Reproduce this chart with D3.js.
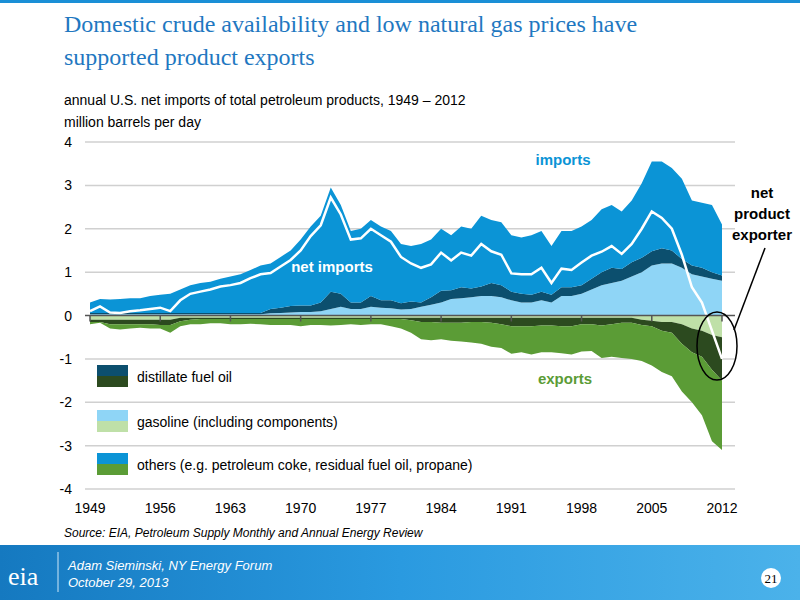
<!DOCTYPE html><html><head><meta charset="utf-8">
<script src="https://cdn.jsdelivr.net/npm/d3@7"></script>
<style>body{margin:0;background:#fff}svg{display:block;font-family:Arial,'Liberation Sans',sans-serif}</style></head><body>
<svg id="c" width="800" height="600"></svg>
<script>
const years = d3.range(1949, 2013);
const gasImports = [.03,.03,.03,.03,.03,.03,.03,.03,.03,.03,.03,.03,.03,.03,.03,.03,.03,.03,.05,.06,.07,.08,.08,.1,.15,.2,.15,.15,.2,.18,.17,.14,.15,.2,.25,.3,.38,.4,.42,.45,.45,.42,.35,.3,.3,.35,.3,.45,.45,.5,.6,.7,.75,.8,.9,1.0,1.15,1.2,1.2,1.1,.95,.9,.85,.8];
const distImports = [.03,.03,.03,.03,.03,.03,.03,.03,.03,.03,.03,.03,.03,.03,.03,.03,.03,.03,.1,.12,.15,.15,.15,.2,.4,.3,.15,.15,.25,.17,.18,.14,.17,.1,.17,.27,.2,.25,.2,.22,.3,.28,.2,.2,.18,.2,.18,.2,.2,.2,.25,.3,.35,.27,.33,.33,.33,.35,.3,.2,.2,.2,.15,.12];
const otherImports = [.24,.32,.31,.32,.34,.34,.39,.42,.44,.54,.64,.69,.72,.79,.84,.89,.99,1.09,1.05,1.17,1.28,1.52,1.82,2.0,2.4,2.05,1.65,1.7,1.75,1.7,1.6,1.37,1.28,1.35,1.33,1.43,1.27,1.4,1.38,1.63,1.45,1.45,1.3,1.3,1.37,1.4,1.12,1.3,1.3,1.35,1.35,1.45,1.45,1.33,1.42,1.72,2.07,2.0,1.9,1.85,1.5,1.5,1.55,1.18];
const gasExports = [.1,.1,.1,.1,.1,.1,.1,.1,.1,.05,.05,.05,.05,.05,.05,.05,.05,.05,.05,.05,.05,.05,.05,.05,.05,.05,.05,.05,.05,.05,.05,.05,.05,.05,.05,.05,.05,.05,.05,.05,.05,.05,.05,.05,.05,.05,.05,.05,.05,.05,.05,.05,.05,.05,.05,.1,.12,.15,.15,.2,.3,.35,.45,.5];
const distExports = [.05,.05,.1,.1,.1,.1,.1,.12,.12,.08,.05,.03,.03,.03,.03,.03,.03,.03,.03,.03,.03,.03,.03,.03,.03,.03,.03,.03,.03,.03,.03,.03,.06,.1,.1,.12,.12,.12,.1,.1,.12,.15,.2,.2,.2,.18,.18,.2,.2,.15,.15,.18,.15,.12,.12,.12,.13,.2,.25,.45,.55,.6,.8,1.0];
const otherExports = [.05,.02,.1,.12,.1,.08,.1,.08,.18,.12,.1,.12,.1,.1,.12,.12,.11,.12,.14,.14,.14,.17,.14,.14,.15,.14,.12,.14,.12,.12,.17,.22,.29,.4,.42,.38,.41,.43,.47,.5,.55,.55,.63,.6,.65,.62,.62,.62,.65,.63,.62,.75,.75,.81,.83,.83,.9,.95,1.0,1.1,1.15,1.35,1.65,1.6];
const yTicks = [4,3,2,1,0,-1,-2,-3,-4];
const xTicks = [1949,1956,1963,1970,1977,1984,1991,1998,2005,2012];

const svg = d3.select('#c');
// header
svg.append('rect').attr('x',0).attr('y',0).attr('width',800).attr('height',3).attr('fill','#1a8fd6');
svg.append('text').attr('x',64).attr('y',32).attr('fill','#1f78c1').attr('font-family','Liberation Serif,Times New Roman,serif').attr('font-size',24).text('Domestic crude availability and low natural gas prices have');
svg.append('text').attr('x',64).attr('y',65).attr('fill','#1f78c1').attr('font-family','Liberation Serif,Times New Roman,serif').attr('font-size',24).text('supported product exports');
svg.append('text').attr('x',64).attr('y',105).attr('font-size',14).attr('fill','#000').text('annual U.S. net imports of total petroleum products, 1949 – 2012');
svg.append('text').attr('x',64).attr('y',127).attr('font-size',14).attr('fill','#000').text('million barrels per day');

const x = d3.scaleLinear().domain([1949,2012]).range([90,722]);
const y = d3.scaleLinear().domain([-4,4]).range([489,142]);

// grid
svg.append('g').selectAll('line').data(yTicks.filter(d=>d!==0)).join('line')
  .attr('x1',85).attr('x2',735).attr('y1',d=>y(d)).attr('y2',d=>y(d)).attr('stroke','#d0d0d0').attr('stroke-width',1.5);
svg.append('g').selectAll('text').data(yTicks).join('text')
  .attr('x',72).attr('y',d=>y(d)+5).attr('text-anchor','end').attr('font-size',14).text(d=>d);

const rows = years.map((yr,i)=>({yr,gi:gasImports[i],di:distImports[i],oi:otherImports[i],ge:gasExports[i],de:distExports[i],oe:otherExports[i]}));
function band(lo,hi,color){
  svg.append('path').datum(rows).attr('fill',color)
   .attr('d',d3.area().x(d=>x(d.yr)).y0(d=>y(lo(d))).y1(d=>y(hi(d))));
}
band(d=>0,d=>d.gi,'#8fd5f6');
band(d=>d.gi,d=>d.gi+d.di,'#0c4f6e');
band(d=>d.gi+d.di,d=>d.gi+d.di+d.oi,'#0b94d6');
band(d=>0,d=>-d.ge,'#bfe0a8');
band(d=>-d.ge,d=>-d.ge-d.de,'#2c4a1f');
band(d=>-d.ge-d.de,d=>-d.ge-d.de-d.oe,'#5b9c36');
// net line
svg.append('path').datum(rows).attr('fill','none').attr('stroke','#fff').attr('stroke-width',2.5)
  .attr('d',d3.line().x(d=>x(d.yr)).y(d=>y(d.gi+d.di+d.oi-d.ge-d.de-d.oe)));

// zero axis
svg.append('line').attr('x1',85).attr('x2',735).attr('y1',y(0)).attr('y2',y(0)).attr('stroke','#555').attr('stroke-width',1.5);
svg.append('g').selectAll('line').data(xTicks).join('line')
  .attr('x1',d=>x(d)).attr('x2',d=>x(d)).attr('y1',y(0)).attr('y2',y(0)+6).attr('stroke','#555').attr('stroke-width',1.5);
svg.append('g').selectAll('text').data(xTicks).join('text')
  .attr('x',d=>x(d)).attr('y',513).attr('text-anchor','middle').attr('font-size',14).text(d=>d);

// labels
svg.append('text').attr('x',563).attr('y',165).attr('text-anchor','middle').attr('fill','#0b94d6').attr('font-weight','bold').attr('font-size',15).text('imports');
svg.append('text').attr('x',332).attr('y',272).attr('text-anchor','middle').attr('fill','#fff').attr('font-weight','bold').attr('font-size',15).text('net imports');
svg.append('text').attr('x',565).attr('y',384).attr('text-anchor','middle').attr('fill','#5b9c36').attr('font-weight','bold').attr('font-size',15).text('exports');
['net','product','exporter'].forEach((t,i)=>svg.append('text').attr('x',762).attr('y',198+i*21).attr('text-anchor','middle').attr('font-weight','bold').attr('font-size',15).text(t));
svg.append('ellipse').attr('cx',717).attr('cy',346).attr('rx',20).attr('ry',34).attr('fill','none').attr('stroke','#000').attr('stroke-width',1.5);
svg.append('line').attr('x1',734).attr('y1',330).attr('x2',765).attr('y2',248).attr('stroke','#000').attr('stroke-width',1.5);

// legend
const legend = [['distillate fuel oil','#0c4f6e','#2c4a1f',365],['gasoline (including components)','#8fd5f6','#bfe0a8',410],['others (e.g. petroleum coke, residual fuel oil, propane)','#0b94d6','#5b9c36',453]];
legend.forEach(([t,c1,c2,yy])=>{
  svg.append('rect').attr('x',97).attr('y',yy).attr('width',31).attr('height',11).attr('fill',c1);
  svg.append('rect').attr('x',97).attr('y',yy+11).attr('width',31).attr('height',11).attr('fill',c2);
  svg.append('text').attr('x',137).attr('y',yy+17).attr('font-size',14).text(t);
});

svg.append('text').attr('x',64).attr('y',537).attr('font-size',12).attr('font-style','italic').text('Source:  EIA, Petroleum Supply Monthly and Annual Energy Review');

// footer
const g = svg.append('defs').append('linearGradient').attr('id','fg');
g.append('stop').attr('offset','0').attr('stop-color','#1579c0');
g.append('stop').attr('offset','0.5').attr('stop-color','#2a9ae0');
g.append('stop').attr('offset','1').attr('stop-color','#4bb2ea');
svg.append('rect').attr('x',0).attr('y',545).attr('width',800).attr('height',55).attr('fill','url(#fg)');
svg.append('text').attr('x',8).attr('y',585).attr('fill','#fff').attr('font-family','Liberation Serif,serif').attr('font-size',26).text('eia');
svg.append('line').attr('x1',58).attr('x2',58).attr('y1',552).attr('y2',592).attr('stroke','#cfe8f8');
svg.append('text').attr('x',68).attr('y',570).attr('fill','#fff').attr('font-size',13).attr('font-style','italic').text('Adam Sieminski, NY Energy Forum');
svg.append('text').attr('x',68).attr('y',587).attr('fill','#fff').attr('font-size',13).attr('font-style','italic').text('October 29, 2013');
svg.append('circle').attr('cx',771).attr('cy',578).attr('r',10).attr('fill','#fff');
svg.append('text').attr('x',771).attr('y',583).attr('text-anchor','middle').attr('font-family','Liberation Serif,serif').attr('font-size',13).text('21');
</script></body></html>
